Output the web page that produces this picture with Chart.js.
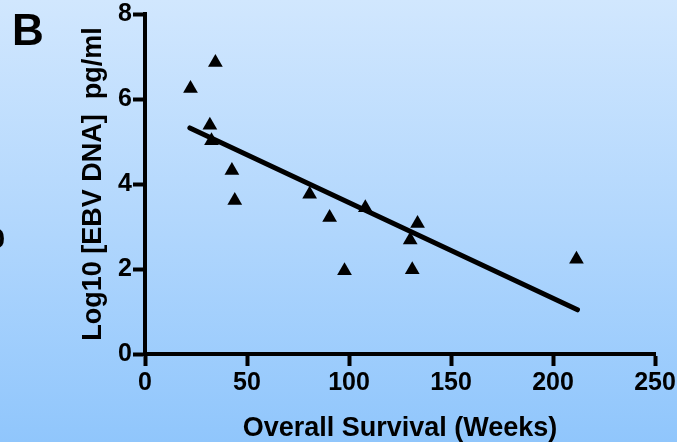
<!DOCTYPE html>
<html>
<head>
<meta charset="utf-8">
<script src="https://cdn.jsdelivr.net/npm/chart.js@4.4.1/dist/chart.umd.min.js"></script>
<style>
  html, body { margin: 0; padding: 0; background: #ffffff; }
  #wrap { position: relative; width: 677px; height: 442px; }
  canvas { display: block; }
</style>
</head>
<body>
<div id="wrap"><canvas id="c" width="677" height="442"></canvas></div>
<script>
// ---- data ----
const survivalWeeks = [22.3, 34.5, 31.8, 32.6, 42.6, 44.0, 80.7, 90.5, 97.8, 108.0, 130.0, 133.6, 131.0, 211.5];
const ebvLog10     = [6.25, 6.86, 5.38, 5.02, 4.32, 3.61, 3.76, 3.21, 1.96, 3.44, 2.68, 3.07, 1.98, 2.23];
const fitWeeks = [22, 212];
const fitLog10 = [5.32, 1.04];
const xTicks = [0, 50, 100, 150, 200, 250];
const yTicks = [0, 2, 4, 6, 8];
const xTitle = 'Overall Survival (Weeks)';
const yTitle = 'Log10 [EBV DNA]  pg/ml';
const panelLabel = 'B';

const points = survivalWeeks.map((x, i) => ({ x: x, y: ebvLog10[i] }));
const fitLine = fitWeeks.map((x, i) => ({ x: x, y: fitLog10[i] }));

const FONT = '"Liberation Sans", Arial, Helvetica, sans-serif';

const bgPlugin = {
  id: 'bg',
  beforeDraw(chart) {
    const ctx = chart.ctx;
    const g = ctx.createLinearGradient(0, 0, 0, chart.height);
    g.addColorStop(0, 'rgb(209,231,254)');
    g.addColorStop(0.5, 'rgb(178,215,253)');
    g.addColorStop(1, 'rgb(144,198,252)');
    ctx.save();
    ctx.fillStyle = g;
    ctx.fillRect(0, 0, chart.width, chart.height);
    ctx.restore();
  },
  afterDraw(chart) {
    const ctx = chart.ctx;
    ctx.save();
    ctx.fillStyle = '#000';
    ctx.textBaseline = 'alphabetic';
    ctx.font = 'bold 44px ' + FONT;
    ctx.textAlign = 'left';
    ctx.fillText(panelLabel, 12, 45);
    ctx.font = 'bold 28px ' + FONT;
    ctx.textAlign = 'right';
    ctx.fillText('0', 5, 248);
    ctx.restore();
  }
};

function zeroPad(scale) {
  scale.paddingLeft = 0; scale.paddingRight = 0;
  scale.paddingTop = 0; scale.paddingBottom = 0;
}

new Chart(document.getElementById('c'), {
  type: 'scatter',
  data: {
    datasets: [
      {
        label: 'EBV DNA',
        data: points,
        pointStyle: 'triangle',
        pointRadius: 8.5,
        pointHoverRadius: 8.5,
        backgroundColor: '#000',
        borderColor: '#000',
        borderWidth: 0
      },
      {
        label: 'Fit',
        type: 'line',
        data: fitLine,
        showLine: true,
        pointRadius: 0,
        borderColor: '#000',
        borderWidth: 5,
        borderCapStyle: 'round',
        fill: false
      }
    ]
  },
  plugins: [bgPlugin],
  options: {
    responsive: false,
    animation: false,
    events: [],
    layout: { padding: { top: 14, right: 22, bottom: 0, left: 0 } },
    plugins: { legend: { display: false }, tooltip: { enabled: false } },
    scales: {
      x: {
        type: 'linear',
        min: xTicks[0],
        max: xTicks[xTicks.length - 1],
        afterBuildTicks(scale) { scale.ticks = xTicks.map(v => ({ value: v })); },
        afterFit(scale) { scale.height = 88; zeroPad(scale); },
        grid: { drawOnChartArea: false, drawTicks: true, tickLength: 12, tickWidth: 4, tickColor: '#000' },
        border: { display: true, color: '#000', width: 4 },
        ticks: { color: '#000', padding: 2, font: { family: FONT, size: 25, weight: 'bold' }, maxRotation: 0 },
        title: { display: true, text: xTitle, color: '#000', padding: { top: 0, bottom: 3 },
                 font: { family: FONT, size: 27, weight: 'bold', lineHeight: 0.8 } }
      },
      y: {
        type: 'linear',
        min: yTicks[0],
        max: yTicks[yTicks.length - 1],
        afterBuildTicks(scale) { scale.ticks = yTicks.map(v => ({ value: v })); },
        afterFit(scale) { scale.width = 145; zeroPad(scale); },
        grid: { drawOnChartArea: false, drawTicks: true, tickLength: 12, tickWidth: 4, tickColor: '#000' },
        border: { display: true, color: '#000', width: 4 },
        ticks: { color: '#000', padding: 1, font: { family: FONT, size: 25, weight: 'bold' } },
        title: { display: true, text: yTitle, color: '#000', padding: { top: 83, bottom: 0 },
                 font: { family: FONT, size: 27, weight: 'bold', lineHeight: 0.8 } }
      }
    }
  }
});
</script>
</body>
</html>
